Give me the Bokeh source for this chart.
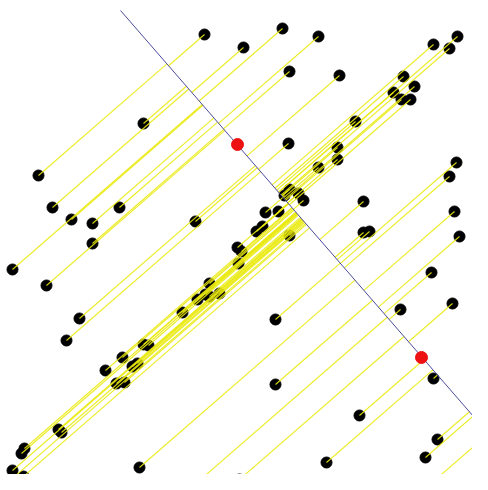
import numpy as np
from bokeh.plotting import figure
from bokeh.models import Range1d
from bokeh.embed import file_html
from bokeh.resources import INLINE

# data points (x, y) -- y grows downward
pt_x = [204, 243, 282, 318, 289, 339, 433, 457, 449, 403, 414, 393, 401, 410, 355, 143,
        38, 52, 71, 92, 119, 92, 195,
        288, 337, 337, 318, 456, 449, 289, 284, 298, 303, 363, 265, 278, 454, 262, 256, 289, 363, 369, 459,
        12, 46, 79, 66,
        237, 241, 238, 209, 197, 205, 209, 219, 182, 143, 148, 122, 105, 132, 137, 116, 124,
        58, 61, 24, 21, 12, 13, 23, 139, 199, 239,
        275, 400, 431, 452, 275, 359, 326, 433, 437, 425, 426]
pt_y = [34, 47, 28, 36, 71, 75, 44, 36, 48, 76, 86, 92, 99, 99, 121, 123,
        175, 207, 219, 223, 207, 243, 221,
        143, 147, 159, 167, 162, 176, 189, 195, 193, 200, 201, 212, 211, 211, 226, 231, 235, 232, 231, 236,
        269, 285, 318, 340,
        247, 251, 263, 283, 299, 294, 296, 293, 312, 344, 345, 357, 370, 366, 363, 383, 382,
        429, 432, 448, 453, 470, 477, 476, 467, 480, 479,
        319, 309, 272, 303, 384, 415, 462, 378, 439, 457, 487]

# projection axis (drawn segment) and the two highlighted points on it
axis_x = [120, 480]
axis_y = [10, 424]
mark_x = [237, 421]
mark_y = [144, 357]

px = np.array(pt_x, float)
py = np.array(pt_y, float)
ax0, ay0 = axis_x[0], axis_y[0]
dx, dy = axis_x[1] - axis_x[0], axis_y[1] - axis_y[0]
n = np.hypot(dx, dy)
dx, dy = dx / n, dy / n
t = (px - ax0) * dx + (py - ay0) * dy
proj_x = ax0 + t * dx
proj_y = ay0 + t * dy

p = figure(width=472, height=474, x_range=Range1d(0, 472), y_range=Range1d(474, 0),
           output_backend="svg", toolbar_location=None, min_border=0,
           x_axis_location=None, y_axis_location=None)
p.grid.visible = False
p.outline_line_color = None
p.background_fill_color = "white"

p.scatter(px, py, size=11, fill_color="black", line_color="black")
p.segment(px, py, proj_x, proj_y, line_color="#eaea10", line_width=1.1, line_alpha=0.9)
p.line(axis_x, axis_y, line_color="#4b4b9c", line_width=1)
p.scatter(mark_x, mark_y, size=12, fill_color="#ee1111", line_color="#ee1111")

open("out.html", "w").write(file_html(p, INLINE))
